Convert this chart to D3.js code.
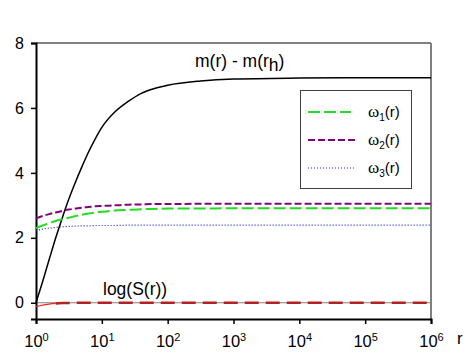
<!DOCTYPE html>
<head>
<script src="https://d3js.org/d3.v7.min.js"></script>
<style>
  body { margin: 0; background: white; }
  svg text { font-family: "Liberation Sans", Arial, sans-serif; fill: black; }
  .leg text { font-size: 15px; }
</style>
</head>
<body>
<svg width="470" height="354"></svg>
<script>
// data (logR = log10 r)
var logR   = [0, 0.1, 0.2, 0.3, 0.4, 0.5, 0.6, 0.7, 0.8, 0.9, 1.0, 1.2, 1.4, 1.6, 1.8, 2.0, 2.5, 3, 4, 5, 6]
var mass   = [0, 0.65, 1.33, 2.0, 2.62, 3.2, 3.72, 4.2, 4.65, 5.05, 5.4, 5.88, 6.2, 6.45, 6.6, 6.7, 6.83, 6.89, 6.92, 6.93, 6.93]
var omega1 = [2.3, 2.38, 2.45, 2.52, 2.57, 2.62, 2.67, 2.71, 2.75, 2.78, 2.8, 2.84, 2.86, 2.88, 2.89, 2.9, 2.9, 2.91, 2.91, 2.91, 2.91]
var omega2 = [2.6, 2.67, 2.73, 2.78, 2.83, 2.87, 2.9, 2.93, 2.95, 2.97, 2.98, 3.0, 3.02, 3.03, 3.04, 3.04, 3.05, 3.05, 3.05, 3.05, 3.05]
var omega3 = [2.22, 2.27, 2.3, 2.32, 2.34, 2.35, 2.36, 2.37, 2.37, 2.38, 2.38, 2.38, 2.39, 2.39, 2.39, 2.39, 2.39, 2.39, 2.39, 2.39, 2.39]
var logS   = [-0.12, -0.07, -0.04, -0.02, -0.01, -0.005, 0, 0, 0, 0, 0, 0, 0, 0, 0, 0, 0, 0, 0, 0, 0]
var yTicks = [0, 2, 4, 6, 8]
var xTicks = [0, 1, 2, 3, 4, 5, 6]

var svg = d3.select("svg")
var pLeft = 36, pRight = 431, pTop = 43, pBottom = 319

var x = d3.scaleLog().domain([1, 1e6]).range([pLeft, pRight])
var y = d3.scaleLinear().domain([-0.5, 8]).range([pBottom, pTop])

function pts(vals) {
    return logR.map((e, i) => [Math.pow(10, e), vals[i]])
}
var line = d3.line()
    .x(d => x(d[0]))
    .y(d => y(d[1]))
    .curve(d3.curveMonotoneX)

// frame: top and right gray
svg.append("line").attr("x1", pLeft).attr("x2", pRight).attr("y1", pTop).attr("y2", pTop)
    .attr("stroke", "#808080").attr("stroke-width", 2)
svg.append("line").attr("x1", pRight).attr("x2", pRight).attr("y1", pTop).attr("y2", pBottom)
    .attr("stroke", "#808080").attr("stroke-width", 2)
// zero line
svg.append("line").attr("x1", pLeft).attr("x2", pRight).attr("y1", y(0)).attr("y2", y(0))
    .attr("stroke", "#808080").attr("stroke-width", 1)

// axes
var yAxis = svg.append("g").attr("transform", "translate(" + pLeft + ",0)")
    .call(d3.axisLeft(y).tickValues(yTicks).tickSize(5).tickPadding(7).tickFormat(d3.format("d")))
var xAxis = svg.append("g").attr("transform", "translate(0," + pBottom + ")")
    .call(d3.axisBottom(x).tickValues(xTicks.map(e => Math.pow(10, e))).tickSize(5).tickPadding(6).tickFormat(""))
;[yAxis, xAxis].forEach(a => {
    a.select(".domain").attr("stroke", "black").attr("stroke-width", 2)
    a.selectAll(".tick line").attr("stroke", "black").attr("stroke-width", 1.5)
})
yAxis.selectAll("text").style("font-size", "16px").style("font-family", "Liberation Sans, Arial, sans-serif")
xAxis.selectAll(".tick").each(function (d, i) {
    var t = d3.select(this).append("text").attr("y", 28).attr("text-anchor", "middle")
        .style("font-size", "16.5px").attr("fill", "black")
    t.append("tspan").text("10")
    t.append("tspan").text(xTicks[i]).attr("dy", -6).style("font-size", "11px")
})
svg.append("text").attr("x", 457).attr("y", 344).style("font-size", "17px").text("r")

// curves
svg.append("path").datum(pts(mass)).attr("d", line)
    .attr("fill", "none").attr("stroke", "black").attr("stroke-width", 1.5)
svg.append("path").datum(pts(omega3)).attr("d", line)
    .attr("fill", "none").attr("stroke", "#2020d0").attr("stroke-width", 1.2).attr("stroke-dasharray", "1,2")
svg.append("path").datum(pts(omega1)).attr("d", line)
    .attr("fill", "none").attr("stroke", "#22dd22").attr("stroke-width", 2).attr("stroke-dasharray", "12,4")
svg.append("path").datum(pts(omega2)).attr("d", line)
    .attr("fill", "none").attr("stroke", "#800080").attr("stroke-width", 2).attr("stroke-dasharray", "7,3")
var sPts = pts(logS)
svg.append("path").datum(sPts.filter(d => d[0] <= 2.01)).attr("d", line)
    .attr("fill", "none").attr("stroke", "#ff2020").attr("stroke-width", 1.3)
svg.append("path").datum(sPts.filter(d => d[0] >= 1.99)).attr("d", line)
    .attr("fill", "none").attr("stroke", "#b22222").attr("stroke-width", 2.5).attr("stroke-dasharray", "14,7")

// curve labels
var lm = svg.append("text").attr("x", 195).attr("y", 67).style("font-size", "17.5px")
lm.append("tspan").text("m(r) - m(r")
lm.append("tspan").text("h").attr("dy", 4)
lm.append("tspan").text(")").attr("dy", -4)
svg.append("text").attr("x", 103).attr("y", 295).style("font-size", "17.5px").text("log(S(r))")

// legend
var legItems = [
    { sub: "1", color: "#22dd22", dash: "12,4", w: 2, len: 43 },
    { sub: "2", color: "#800080", dash: "7,3", w: 2, len: 49 },
    { sub: "3", color: "#2020d0", dash: "1,2", w: 1.2, len: 46 }
]
var leg = svg.append("g").attr("class", "leg")
leg.append("rect").attr("x", 300.5).attr("y", 90.5).attr("width", 111).attr("height", 98)
    .attr("fill", "white").attr("stroke", "#404040").attr("stroke-width", 1)
legItems.forEach((d, i) => {
    var yy = 112 + i * 28
    leg.append("line").attr("x1", 308).attr("x2", 308 + d.len).attr("y1", yy).attr("y2", yy)
        .attr("stroke", d.color).attr("stroke-width", d.w).attr("stroke-dasharray", d.dash)
    var t = leg.append("text").attr("x", 368).attr("y", yy + 5)
    t.append("tspan").text("\u03c9").style("font-family", "Liberation Serif, serif").style("font-size", "17px")
    t.append("tspan").text(d.sub).attr("dy", 4).style("font-size", "10px")
    t.append("tspan").text("(r)").attr("dy", -4)
})
</script>
</body>
